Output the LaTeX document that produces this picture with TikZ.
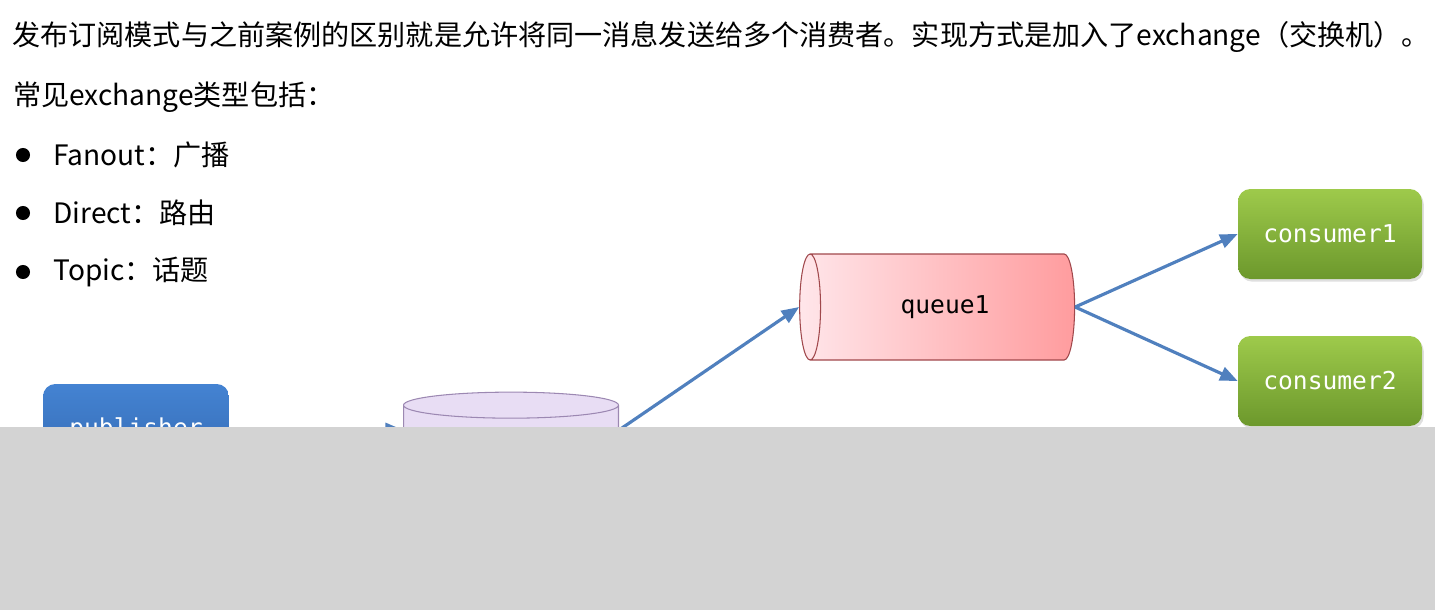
\documentclass[tikz,border=0pt]{standalone}
\usepackage{fontspec}
\setmainfont{Noto Sans CJK SC}
\setmonofont{DejaVu Sans Mono}
\usetikzlibrary{shapes.geometric,arrows.meta,shadows}
\definecolor{arrowblue}{HTML}{5080BE}
\definecolor{pubtop}{HTML}{4483D2}
\definecolor{pubbottom}{HTML}{3469B2}
\definecolor{greentop}{HTML}{9ECA4B}
\definecolor{greenbottom}{HTML}{6C982C}
\definecolor{queueleft}{HTML}{FFE6EA}
\definecolor{queueright}{HTML}{FF9C9E}
\definecolor{queueline}{HTML}{A0484C}
\definecolor{exchfill}{HTML}{E8DDF4}
\definecolor{exchline}{HTML}{9C88B2}
\definecolor{coverg}{HTML}{D3D3D3}

\begin{document}
\begin{tikzpicture}[x=0.02cm, y=-0.02cm, every node/.style={align=center},
  txt/.style={anchor=west, inner sep=0pt, font=\fontsize{16}{19}\selectfont},
  boxtext/.style={font=\ttfamily\fontsize{14}{16}\selectfont},
  pubbox/.style={rectangle, rounded corners=7pt, top color=pubtop, bottom color=pubbottom, draw=none, text=white, boxtext, minimum width=3.72cm, minimum height=1.84cm},
  consbox/.style={rectangle, rounded corners=7pt, top color=greentop, bottom color=greenbottom, draw=none, text=white, boxtext, minimum width=3.68cm, minimum height=1.8cm, drop shadow={opacity=0.25, shadow xshift=1pt, shadow yshift=-1.5pt}},
  queuebox/.style={cylinder, shape border rotate=180, aspect=0.6, left color=queueleft, right color=queueright, draw=queueline, line width=0.6pt, boxtext, minimum width=2.12cm, minimum height=5.5cm},
  exchbox/.style={cylinder, shape border rotate=90, aspect=0.2, fill=exchfill, draw=exchline, line width=0.6pt, boxtext, minimum width=4.3cm, minimum height=1.96cm},
  flow/.style={-{Triangle[length=10pt,width=8pt]}, line width=1.8pt, draw=arrowblue}]
\useasboundingbox (0,0) rectangle (1435,610);

% Text
\node[txt] (intro) at (12,37) {发布订阅模式与之前案例的区别就是允许将同一消息发送给多个消费者。实现方式是加入了exchange（交换机）。};
\node[txt] (types) at (13,97) {常见exchange类型包括：};
\node[txt] (fanout) at (53,155) {Fanout：广播};
\node[txt] (direct) at (53,213) {Direct：路由};
\node[txt] (topic) at (53,272) {Topic：话题};
\foreach \y in {155,213,272}
  \fill (23,\y) circle (4pt);

% Publisher and exchange
\node[pubbox] (publisher) at (136,430) {publisher};
\node[exchbox] (exchange) at (511,450) {exchange};

% Queue
\node[queuebox] (queue1) at (945,307) {queue1};

% Consumers
\node[consbox] (consumer1) at (1330,234) {consumer1};
\node[consbox] (consumer2) at (1330,381) {consumer2};

% Arrows
\draw[flow] (publisher.east) -- (publisher.east -| exchange.west);
\draw[flow] (publisher.east -| exchange.east) -- (queue1.west);
\draw[flow] (queue1.east) -- (consumer1.west);
\draw[flow] (queue1.east) -- (consumer2.west);

% Cover
\fill[coverg] (0,427) rectangle (1435,610);
\end{tikzpicture}
\end{document}
